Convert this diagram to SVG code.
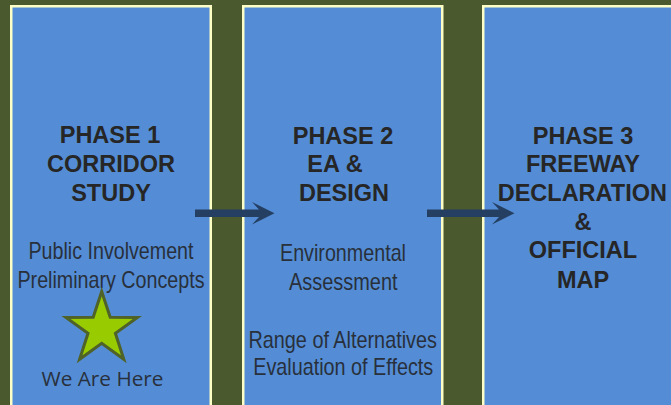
<svg xmlns="http://www.w3.org/2000/svg" width="671" height="405" viewBox="0 0 671 405">
  <style>
    .panel { fill: #548dd5; stroke: #fdfdc6; stroke-width: 2.5; }
    .title { font-family: "Liberation Sans", Arial, sans-serif; font-weight: bold; font-size: 23.5px; fill: #262626; text-anchor: middle; }
    .sub { font-family: "Liberation Sans", Arial, sans-serif; font-size: 24px; fill: #28303c; text-anchor: middle; }
    .arrow { fill: #243f62; }
  </style>
  <rect x="0" y="0" width="671" height="405" fill="#4b5a2e"/>

  <g id="phase1">
    <rect class="panel" x="11.25" y="6.25" width="199.5" height="420"/>
    <text class="title" x="110" y="142.7">PHASE 1</text>
    <text class="title" x="111" y="172">CORRIDOR</text>
    <text class="title" x="111" y="201">STUDY</text>
    <text class="sub" x="111" y="259" textLength="165" lengthAdjust="spacingAndGlyphs">Public Involvement</text>
    <text class="sub" x="111" y="287.7" textLength="187" lengthAdjust="spacingAndGlyphs">Preliminary Concepts</text>
  </g>

  <g id="we-are-here">
    <polygon points="101.7,291.5 110.2,317.3 137.4,317.4 115.4,333.3 123.8,359.3 101.7,343.3 79.6,359.3 88,333.3 66,317.4 93.2,317.3" fill="#99cc00" stroke="#4f6228" stroke-width="3" stroke-linejoin="miter"/>
    <text x="102.5" y="386" font-family="'Open Sans', 'Liberation Sans', sans-serif" font-size="19.5" fill="#28303c" text-anchor="middle" textLength="122" lengthAdjust="spacingAndGlyphs">We Are Here</text>
  </g>

  <g id="phase2">
    <rect class="panel" x="243.25" y="6.25" width="199" height="420"/>
    <text class="title" x="343" y="144">PHASE 2</text>
    <text class="title" x="335" y="172">EA &amp;</text>
    <text class="title" x="344" y="201">DESIGN</text>
    <text class="sub" x="343" y="261" textLength="126" lengthAdjust="spacingAndGlyphs">Environmental</text>
    <text class="sub" x="343.3" y="290" textLength="108.5" lengthAdjust="spacingAndGlyphs">Assessment</text>
    <text class="sub" x="342.7" y="347.7" textLength="188.5" lengthAdjust="spacingAndGlyphs">Range of Alternatives</text>
    <text class="sub" x="343.2" y="375" textLength="180" lengthAdjust="spacingAndGlyphs">Evaluation of Effects</text>
  </g>

  <g id="phase3">
    <rect class="panel" x="483.25" y="6.25" width="200" height="420"/>
    <text class="title" x="583" y="144">PHASE 3</text>
    <text class="title" x="583" y="172.3">FREEWAY</text>
    <text class="title" x="582.3" y="201">DECLARATION</text>
    <text class="title" x="583" y="230">&amp;</text>
    <text class="title" x="583" y="258.3">OFFICIAL</text>
    <text class="title" x="583" y="287.7">MAP</text>
  </g>

  <g id="connectors">
    <polygon class="arrow" points="195,209.5 259,209.5 252,202 274.5,213.3 252,224.5 259,217 195,217"/>
    <polygon class="arrow" points="427,209.5 499,209.5 492,202 514.5,213.3 492,224.5 499,217 427,217"/>
  </g>
</svg>
